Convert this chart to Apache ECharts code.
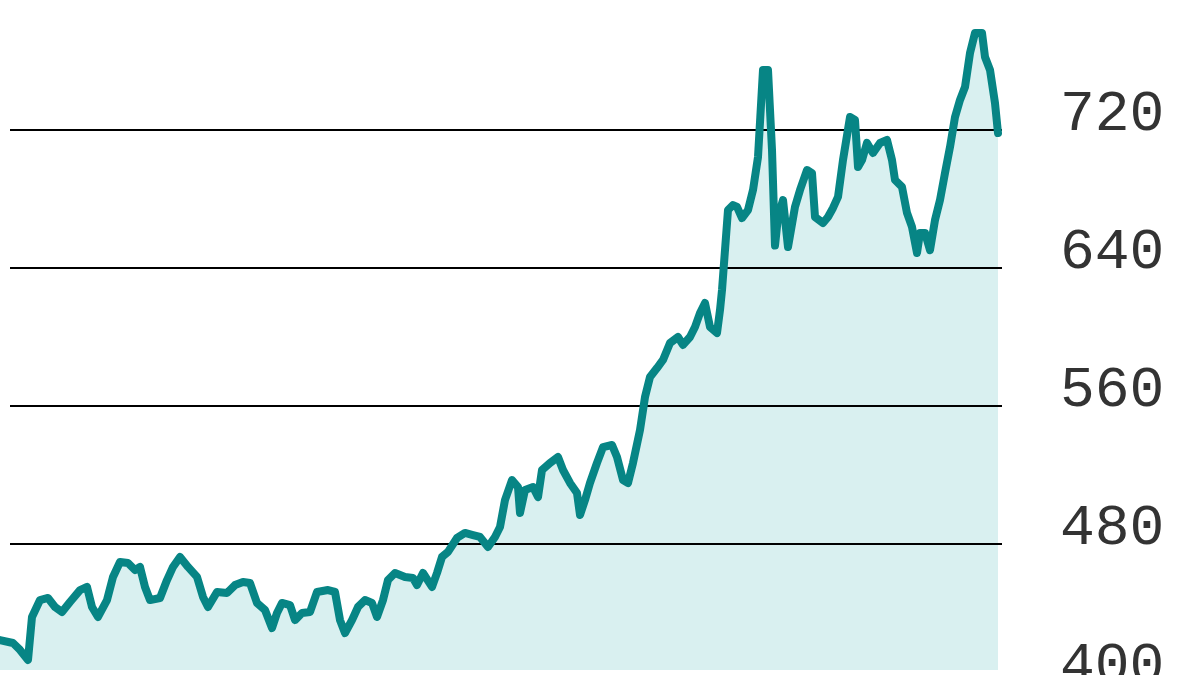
<!DOCTYPE html>
<html><head><meta charset="utf-8">
<script src="https://cdn.jsdelivr.net/npm/echarts@6/dist/echarts.min.js"></script>
<style>html,body{margin:0;padding:0;background:#fff;overflow:hidden}#c{width:1200px;height:675px}</style>
</head><body><div id="c"></div>
<script>
const weeks = [0,2.6,4,5.6,6.4,8,9.6,11,12.4,14,
16,17.4,18.4,19.6,21.4,22.6,24,25.6,27,28,
29,30,32,33.4,34.6,36,37.6,39.4,40.6,41.6,
43.4,45.4,47,48.6,50,51.4,53,54.4,55.4,56.4,
58,59,60.4,62,63.4,65.6,67,68,69,70.4,
71.6,73,74.4,75.4,76.6,77.6,79,81,82.6,83.4,
84.6,86.4,87.4,88.4,89.6,91.4,93,94.6,96,97.6,
99,100,101,102.4,103.6,104,105,106.6,107.6,108.4,
110,111.6,112.6,114,115.4,116,117,118,119.4,120.6,
122.4,123.4,124.6,125.6,126.6,128,129,130,131.4,132.6,
134,135.6,136.6,138,139,140,141,142,143.4,144,
144.4,145,145.6,146.6,147.4,148.4,149.6,150.6,151.6,152.6,
153.6,154.4,155,155.6,156.6,157.6,159,160,161.4,162.4,
163,164.6,165.6,166.6,167.6,168.6,170,171,171.6,172.4,
173.4,174.6,176,177.4,178.4,179,180.4,181.4,182.4,183.4,
184,185,186,187,188,189,190,191,192,193,
194,195,196.4,197,198,199,199.6];
const values = [424.3,422.6,418.6,412.8,437.7,447.5,448.7,443.5,440.6,446.4,
453.3,455.1,443.5,437.7,447.5,460.9,469.6,469.0,464.9,466.7,
455.1,447.5,448.7,459.1,466.7,472.5,466.7,460.9,449.3,443.5,
452.2,451.6,456.2,458.0,457.4,445.8,441.7,431.3,440.0,445.8,
444.6,435.9,440.0,440.6,452.2,453.3,452.2,435.9,428.4,435.9,
443.5,447.5,445.8,437.7,447.5,459.1,463.2,460.9,460.3,456.2,
463.2,455.1,463.2,472.5,475.4,483.5,486.4,485.2,484.1,478.3,
484.1,489.9,505.5,517.1,513.0,498.0,511.3,513.0,507.2,522.9,
527.0,530.4,522.9,515.4,509.6,496.8,505.5,515.4,527.0,536.2,
537.4,530.4,517.1,515.4,527.0,546.1,565.2,576.8,582.0,586.7,
596.5,600.0,595.4,600.0,605.8,613.9,619.7,605.8,602.3,615.6,
627.2,650.4,673.6,676.5,675.4,669.0,673.6,685.2,704.3,754.8,
754.8,708.4,653.0,669.6,679.4,652.2,675.4,685.2,696.8,695.0,
669.6,666.1,669.6,674.8,681.2,702.6,727.5,725.8,698.5,702.6,
712.5,706.7,712.5,714.2,702.6,691.0,687.0,671.9,663.8,648.7,
660.3,660.3,650.4,667.8,679.4,695.1,710.1,727.5,737.4,744.9,
764.6,776.2,776.2,762.3,754.8,735.6,718.2];
const yMin = 400, yMax = 800, yStep = 80;
const areaBase = 407;

const data = weeks.map((w, i) => [w, values[i]]);
const chart = echarts.init(document.getElementById('c'), null, {renderer: 'canvas'});
chart.setOption({
  animation: false,
  backgroundColor: '#ffffff',
  grid: [
    {left: 0, right: 202, top: -8, bottom: -7, outerBoundsMode: 'none', containLabel: false},
    {left: 10, right: 198, top: -8, bottom: -7, outerBoundsMode: 'none', containLabel: false}
  ],
  xAxis: [
    {type: 'value', gridIndex: 0, min: 0, max: weeks[weeks.length - 1], show: false},
    {type: 'value', gridIndex: 1, min: 0, max: 1, show: false}
  ],
  yAxis: [
    {type: 'value', gridIndex: 0, min: yMin, max: yMax, interval: yStep, show: false},
    {type: 'value', gridIndex: 1, min: yMin, max: yMax, interval: yStep, position: 'right', z: 2,
     axisLine: {show: false}, axisTick: {show: false},
     splitLine: {show: true, lineStyle: {color: '#000', width: 2}},
     axisLabel: {show: true, margin: 58, color: '#333', fontFamily: 'Liberation Mono', fontSize: 58,
       verticalAlign: 'bottom', lineHeight: 58, padding: [0, 0, -14, 0]}}
  ],
  series: [
    {type: 'line', xAxisIndex: 0, yAxisIndex: 0, data: data, z: 1, symbol: 'none',
     lineStyle: {width: 0, opacity: 0}, areaStyle: {color: '#d9f0f0', opacity: 1, origin: areaBase}},
    {type: 'line', xAxisIndex: 0, yAxisIndex: 0, data: data, z: 3, symbol: 'none',
     lineStyle: {width: 8, color: '#078585', join: 'round', cap: 'round'}}
  ]
});
</script>
</body></html>
